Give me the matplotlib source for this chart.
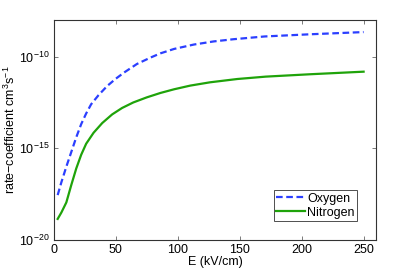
import numpy as np
import matplotlib.pyplot as plt
from matplotlib.ticker import FixedLocator, NullLocator

plt.rcParams['font.family'] = ['Liberation Sans', 'DejaVu Sans']
plt.rcParams['mathtext.fontset'] = 'custom'
plt.rcParams['mathtext.rm'] = 'Liberation Sans'
plt.rcParams['mathtext.it'] = 'Liberation Sans'

# values (E in kV/cm, log10 of rate coefficient)
e_oxygen = [3, 6, 10, 14, 18, 22, 26, 30, 36, 43, 50, 57, 67, 78, 86, 97, 113, 129, 145, 170, 207, 250]
log_oxygen = [-17.55, -16.85, -16.0, -15.2, -14.4, -13.68, -13.1, -12.6, -12.1, -11.6, -11.2,
              -10.85, -10.4, -10.05, -9.82, -9.58, -9.34, -9.17, -9.05, -8.9, -8.78, -8.66]
e_nitrogen = [3, 6, 10, 14, 18, 22, 26, 32, 39, 47, 55, 64, 75, 86, 97, 110, 126, 148, 171, 207, 250]
log_nitrogen = [-18.85, -18.5, -17.95, -17.0, -16.1, -15.35, -14.75, -14.15, -13.62, -13.15, -12.8,
                -12.5, -12.22, -11.98, -11.78, -11.58, -11.40, -11.22, -11.09, -10.96, -10.82]

y_ticks = [1e-20, 1e-15, 1e-10]
x_ticks = [0, 50, 100, 150, 200, 250]

fig = plt.figure(figsize=(4.15, 2.72), dpi=100)
ax = fig.add_axes([0.130, 0.1176, 0.776, 0.809])

ax.semilogy(e_oxygen, 10.0 ** np.array(log_oxygen), '--', color='#2b3fff', lw=1.6,
            dashes=(3, 1.6), label='Oxygen')
ax.semilogy(e_nitrogen, 10.0 ** np.array(log_nitrogen), '-', color='#1fa30a', lw=1.6,
            label='Nitrogen')

ax.set_xlim(0, 260)
ax.set_ylim(1e-20, 1e-8)
ax.xaxis.set_major_locator(FixedLocator(x_ticks))
ax.yaxis.set_major_locator(FixedLocator(y_ticks))
ax.yaxis.set_minor_locator(NullLocator())
ax.tick_params(direction='in', top=True, right=True, labelsize=9, length=3, width=0.6,
               color='#666666', pad=3)
for s in ax.spines.values():
    s.set_color('#333333')
    s.set_linewidth(0.8)

ax.set_xlabel('E (kV/cm)', fontsize=9, labelpad=0)
ax.set_ylabel('rate\u2212coefficient cm$^3$s$^{-1}$', fontsize=9, labelpad=1)

leg = ax.legend(loc='lower right', fontsize=9, frameon=True, fancybox=False,
                handlelength=2.3, handletextpad=0.15, borderpad=0.2, labelspacing=0.15,
                borderaxespad=0, bbox_to_anchor=(0.941, 0.086))
leg.get_frame().set_edgecolor('#222222')
leg.get_frame().set_linewidth(0.7)

fig.savefig('out.png', dpi=100)
